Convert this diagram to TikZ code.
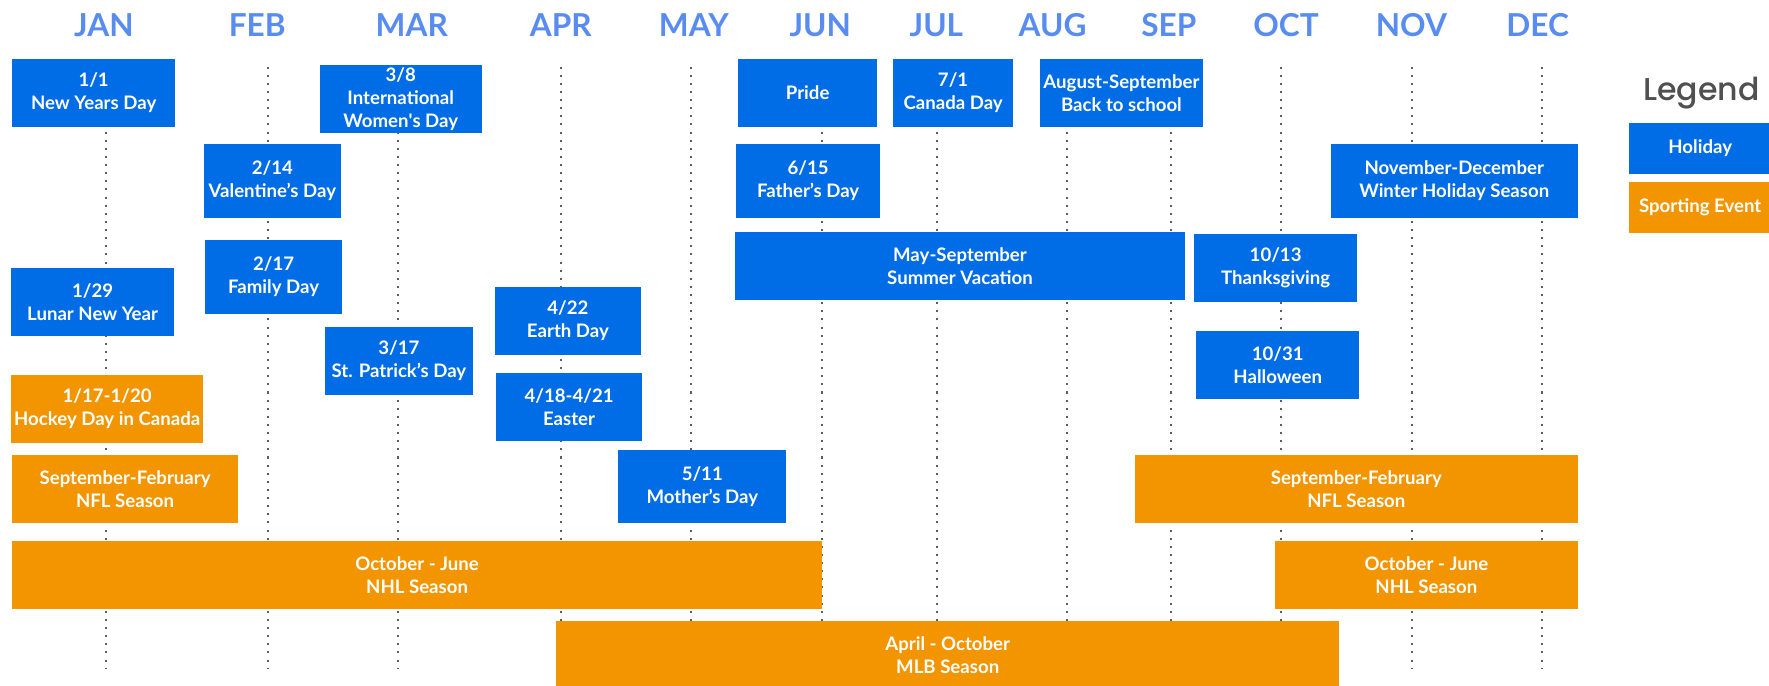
\documentclass[tikz,border=0pt]{standalone}
\usepackage{fontspec}
\setmainfont{Lato}
\newfontfamily\legfont{Poppins}[UprightFont={* Medium}]
\usepackage{tikz}

\definecolor{holblue}{RGB}{0,108,230}
\definecolor{sptorange}{RGB}{242,149,0}
\definecolor{monblue}{RGB}{88,140,240}
\definecolor{leggray}{RGB}{80,80,80}
\definecolor{dotgray}{RGB}{95,95,95}

\begin{document}
\begin{tikzpicture}
		[x=1pt,y=-1pt,
		 hol/.style= {fill=holblue,text=white,inner sep=0pt,align=center,
			font=\fontsize{16.5}{20.5}\selectfont\bfseries},
		 spt/.style= {hol,fill=sptorange},
		 mon/.style= {anchor=base,text=monblue,font=\fontsize{28}{28}\selectfont\bfseries},
		 guide/.style= {dotgray,line width=1.8pt,dash pattern=on 1.8pt off 5.4pt}]

		\useasboundingbox (0,0) rectangle (1568,608);

		% month labels
		\node[mon] (jan) at (92,32.5) {JAN};
		\node[mon] (feb) at (228,32.5) {FEB};
		\node[mon] (mar) at (365,32.5) {MAR};
		\node[mon] (apr) at (497,32.5) {APR};
		\node[mon] (may) at (615,32.5) {MAY};
		\node[mon] (jun) at (727,32.5) {JUN};
		\node[mon] (jul) at (830,32.5) {JUL};
		\node[mon] (aug) at (933,32.5) {AUG};
		\node[mon] (sep) at (1036,32.5) {SEP};
		\node[mon] (oct) at (1140,32.5) {OCT};
		\node[mon] (nov) at (1251,32.5) {NOV};
		\node[mon] (dec) at (1363,32.5) {DEC};

		% dotted month lines
		\foreach \m/\x in {jan/93.6,feb/237.4,mar/353,apr/497,may/612.8,jun/728.5,
			jul/830.3,aug/946,sep/1038,oct/1135.6,nov/1251.4,dec/1367}{
			\coordinate (\m top) at (\x,59);
			\coordinate (\m bot) at (\x,592);
			\draw[guide] (\m top) -- (\m bot);
		}

		% holidays
		\node[hol,minimum width=145,minimum height=60] (nyd) at (83,82.3) {1/1\\New Years Day};
		\node[hol,minimum width=144,minimum height=60] (iwd) at (355.2,87.6) {3/8\\International\\Women\textquotesingle s Day};
		\node[hol,minimum width=121,minimum height=65] (val) at (241.4,160.4) {2/14\\Valentine’s Day};
		\node[hol,minimum width=121,minimum height=65] (fam) at (242.5,245.4) {2/17\\Family Day};
		\node[hol,minimum width=144.4,minimum height=60] (lny) at (82.1,267.6) {1/29\\Lunar New Year};
		\node[hol,minimum width=131,minimum height=60] (stp) at (353.6,319.9) {3/17\\St. Patrick’s Day};
		\node[hol,minimum width=129.3,minimum height=60] (earth) at (503.4,284.4) {4/22\\Earth Day};
		\node[hol,minimum width=129,minimum height=60] (easter) at (504.4,360.7) {4/18-4/21\\Easter};
		\node[hol,minimum width=149,minimum height=65] (mom) at (622.5,431.5) {5/11\\Mother’s Day};
		\node[hol,minimum width=123,minimum height=60] (pride) at (715.9,82.3) {Pride};
		\node[hol,minimum width=107,minimum height=60] (canada) at (844.8,82.3) {7/1\\Canada Day};
		\node[hol,minimum width=144,minimum height=60] (school) at (994,82.3) {August-September\\Back to school};
		\node[hol,minimum width=127.5,minimum height=65] (father) at (716.3,160.4) {6/15\\Father’s Day};
		\node[hol,minimum width=399,minimum height=60] (summer) at (850.9,235.7) {May-September\\Summer Vacation};
		\node[hol,minimum width=144.5,minimum height=60] (thanks) at (1130.7,237.4) {10/13\\Thanksgiving};
		\node[hol,minimum width=144.5,minimum height=60] (hallo) at (1132.5,323.4) {10/31\\Halloween};
		\node[hol,minimum width=218.6,minimum height=65] (winter) at (1289,160.4) {November-December\\Winter Holiday Season};

		% sporting events
		\node[spt,minimum width=170,minimum height=60] (hockey) at (95,362.4) {1/17-1/20\\Hockey Day in Canada};
		\node[spt,minimum width=200.3,minimum height=60] (nflA) at (110.9,433.3) {September-February\\NFL Season};
		\node[spt,minimum width=392.4,minimum height=60] (nflB) at (1202.2,433.3) {September-February\\NFL Season};
		\node[spt,minimum width=718,minimum height=60] (nhlA) at (369.7,509.5) {October - June\\NHL Season};
		\node[spt,minimum width=268.3,minimum height=60] (nhlB) at (1264.3,509.5) {October - June\\NHL Season};
		\node[spt,minimum width=694,minimum height=60] (mlb) at (840,580.5) {April - October\\MLB Season};

		% legend
		\node[anchor=base,text=leggray,font=\legfont\fontsize{28}{28}\selectfont] (legend) at (1508,89) {Legend};
		\node[hol,minimum width=126,minimum height=45] (keyhol) at (1507,131.5) {Holiday};
		\node[spt,minimum width=126,minimum height=45] (keyspt) at (1507,183.8) {Sporting Event};

	\end{tikzpicture}
\end{document}
